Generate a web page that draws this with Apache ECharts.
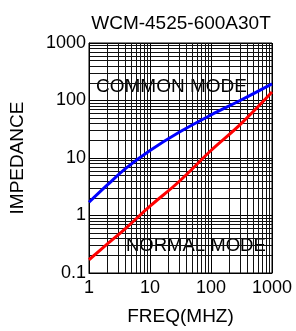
<!DOCTYPE html>
<html>
<head>
    <meta charset="utf-8">
    <title>WCM-4525-600A30T</title>
    <script src="https://cdn.jsdelivr.net/npm/echarts@6/dist/echarts.min.js"></script>
    <style>
        html, body { margin: 0; padding: 0; background: #fff; }
        #chart { width: 296px; height: 331px; }
    </style>
</head>
<body>
<div id="chart"></div>
<script>
    // 数据
    var freq = [1, 2, 4, 10, 30, 100, 300, 1000];
    var commonMode = [1.7, 3.4, 6.6, 13.5, 28, 56, 100, 195];
    var normalMode = [0.17, 0.32, 0.6, 1.45, 3.9, 13.5, 38, 140];
    var xTicks = ['1', '10', '100', '1000'];
    var yTicks = ['0.1', '1', '10', '100', '1000'];

    function pairs(xs, ys) {
        return xs.map(function (x, i) { return [x, ys[i]]; });
    }

    var font = 'Liberation Sans, Arial, sans-serif';
    var myChart = echarts.init(document.getElementById('chart'));
    var option = {
        animation: false,
        title: {
            text: 'WCM-4525-600A30T',
            left: 176, top: 9, textAlign: 'center',
            textStyle: { fontFamily: font, fontSize: 19, fontWeight: 'normal', color: '#000' }
        },
        grid: {
            left: 84, right: 24, top: 43, bottom: 54,
            show: true, borderColor: '#000', borderWidth: 1
        },
        xAxis: {
            type: 'log', logBase: 10, min: 1, max: 1000, interval: 1,
            name: 'FREQ(MHZ)', nameLocation: 'middle', nameGap: 34,
            nameTextStyle: { fontFamily: font, fontSize: 19, color: '#000' },
            axisLine: { lineStyle: { color: '#000' } },
            axisTick: { show: false },
            axisLabel: {
                fontFamily: font, fontSize: 18, color: '#000', margin: 6,
                formatter: function (v) { return xTicks[Math.round(Math.log10(v))]; }
            },
            splitLine: { show: true, lineStyle: { color: '#000', width: 1 } },
            minorTick: { show: false, splitNumber: 9 },
            minorSplitLine: { show: true, lineStyle: { color: '#111', width: 1 } }
        },
        yAxis: {
            type: 'log', logBase: 10, min: 0.1, max: 1000, interval: 1,
            name: 'IMPEDANCE', nameLocation: 'middle', nameGap: 62, nameRotate: 90,
            nameTextStyle: { fontFamily: font, fontSize: 19, color: '#000' },
            axisLine: { show: true, lineStyle: { color: '#000' } },
            axisTick: { show: false },
            axisLabel: {
                fontFamily: font, fontSize: 18, color: '#000', margin: 3,
                formatter: function (v) { return yTicks[Math.round(Math.log10(v)) + 1]; }
            },
            splitLine: { show: true, lineStyle: { color: '#000', width: 1 } },
            minorTick: { show: false, splitNumber: 9 },
            minorSplitLine: { show: true, lineStyle: { color: '#111', width: 1 } }
        },
        graphic: [
            {
                type: 'text', left: 96, top: 77,
                style: { text: 'COMMON MODE', fontFamily: font, fontSize: 19, fill: '#000' }
            },
            {
                type: 'text', left: 126, top: 236,
                style: { text: 'NORMAL MODE', fontFamily: font, fontSize: 18.5, fill: '#000' }
            }
        ],
        series: [
            {
                name: 'COMMON MODE', type: 'line', smooth: 0.4, symbol: 'none',
                lineStyle: { color: '#0000ff', width: 3 },
                data: pairs(freq, commonMode)
            },
            {
                name: 'NORMAL MODE', type: 'line', smooth: 0.4, symbol: 'none',
                lineStyle: { color: '#ff0000', width: 3 },
                data: pairs(freq, normalMode)
            }
        ]
    };
    myChart.setOption(option);
</script>
</body>
</html>
